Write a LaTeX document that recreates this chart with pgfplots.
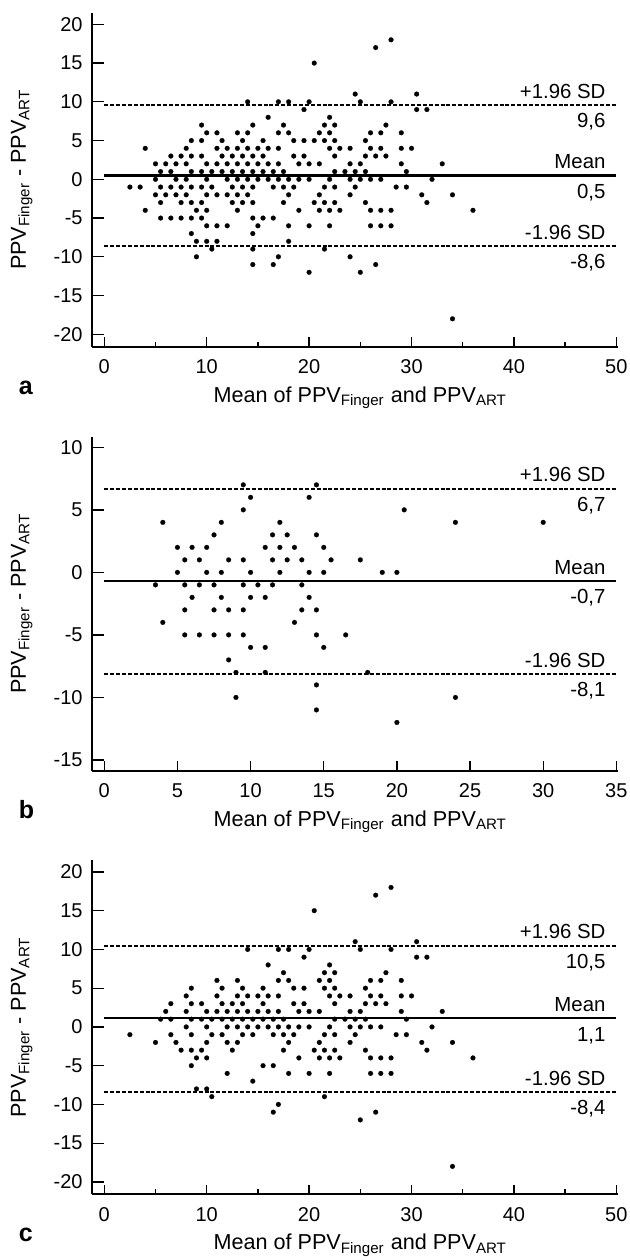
\documentclass[border=0pt]{standalone}
\usepackage{fontspec}
\setmainfont{Liberation Sans}
\usepackage{pgfplots}
\usepackage{pgfplotstable}
\pgfplotsset{compat=1.18}

% Bland-Altman scatter: mean of the two methods (x) vs difference (y)
\pgfplotstableread{
x y
2.5 -1
3.5 -1
4 4
4 -4
5 2
5 0
5 -2
5.5 1
5.5 -1
5.5 -3
5.5 -5
6 2
6 -2
6.5 3
6.5 1
6.5 -1
6.5 -5
7 2
7 0
7 -2
7.5 3
7.5 -1
7.5 -3
7.5 -5
8 4
8 2
8 0
8 -2
8.5 5
8.5 3
8.5 1
8.5 -1
8.5 -3
8.5 -5
8.5 -7
9 -4
9 -8
9 -10
9.5 7
9.5 5
9.5 3
9.5 1
9.5 -1
9.5 -3
9.5 -5
10 6
10 2
10 0
10 -2
10 -4
10 -6
10 -8
10.5 1
10.5 -1
10.5 -9
11 6
11 4
11 2
11 -2
11 -6
11 -8
11.5 5
11.5 3
11.5 1
12 4
12 2
12 0
12 -2
12 -6
12.5 3
12.5 1
12.5 -1
12.5 -3
13 6
13 4
13 2
13 0
13 -2
13 -4
13.5 5
13.5 3
13.5 1
13.5 -1
13.5 -3
14 10
14 6
14 4
14 2
14 0
14 -2
14.5 7
14.5 3
14.5 1
14.5 -1
14.5 -3
14.5 -5
14.5 -7
14.5 -9
14.5 -11
15 4
15 2
15 0
15 -6
15.5 5
15.5 3
15.5 1
15.5 -5
16 8
16 4
16 2
16 0
16.5 1
16.5 -1
16.5 -5
16.5 -11
17 10
17 6
17 4
17 2
17 0
17 -10
17.5 7
17.5 1
17.5 -1
17.5 -3
18 10
18 6
18 0
18 -2
18 -6
18 -8
18.5 5
18.5 3
18.5 -1
19 2
19 0
19 -4
19.5 9
19.5 5
19.5 3
20 10
20 2
20 0
20 -6
20 -12
20.5 15
20.5 5
20.5 -3
21 6
21 2
21 -2
21 -4
21.5 7
21.5 5
21.5 -1
21.5 -3
21.5 -9
22 8
22 6
22 4
22 0
22 -4
22 -6
22.5 7
22.5 5
22.5 3
22.5 1
22.5 -1
22.5 -3
23 4
23 -4
23.5 1
24 4
24 2
24 0
24 -2
24 -10
24.5 11
24.5 1
24.5 -1
25 10
25 2
25 0
25 -12
25.5 5
25.5 3
25.5 1
25.5 -3
26 6
26 4
26 0
26 -4
26 -6
26.5 17
26.5 3
26.5 -11
27 6
27 4
27 0
27 -4
27 -6
27.5 7
27.5 3
28 18
28 10
28 -4
28 -6
28.5 -1
29 6
29 4
29 2
29.5 1
29.5 -1
30 4
30.5 11
30.5 9
31 -2
31.5 9
31.5 -3
32 0
33 2
34 -2
34 -18
36 -4
}\dataA

\pgfplotstableread{
x y
3.5 -1
4 4
4 -4
5 2
5 0
5.5 1
5.5 -1
5.5 -3
5.5 -5
6 2
6 -2
6.5 1
6.5 -1
6.5 -5
7 2
7 0
7.5 3
7.5 -1
7.5 -3
7.5 -5
8 4
8 0
8 -2
8.5 1
8.5 -3
8.5 -5
8.5 -7
9 -8
9 -10
9.5 7
9.5 5
9.5 1
9.5 -1
9.5 -3
9.5 -5
10 6
10 0
10 -2
10 -6
10.5 -1
11 2
11 -2
11 -6
11 -8
11.5 3
11.5 1
11.5 -1
12 4
12 2
12 0
12.5 3
12.5 1
13 2
13 -4
13.5 1
13.5 -1
13.5 -3
14 6
14 0
14 -2
14.5 7
14.5 3
14.5 -3
14.5 -5
14.5 -9
14.5 -11
15 2
15 0
15 -6
15.5 1
16.5 -5
17.5 1
18 -8
19 0
20 0
20 -12
20.5 5
24 4
24 -10
30 4
}\dataB

\pgfplotstableread{
x y
2.5 -1
5 -2
5.5 1
6 2
6.5 3
6.5 1
6.5 -1
7 -2
7.5 -3
8 4
8 2
8 0
8.5 5
8.5 3
8.5 1
8.5 -1
8.5 -3
8.5 -5
9 -4
9 -8
9.5 3
9.5 1
9.5 -3
10 2
10 0
10 -2
10 -4
10 -8
10.5 1
10.5 -1
10.5 -9
11 6
11 4
11 2
11.5 5
11.5 3
11.5 1
11.5 -1
12 2
12 0
12 -2
12 -6
12.5 3
12.5 1
12.5 -3
13 6
13 4
13 2
13 0
13 -2
13.5 5
13.5 3
13.5 1
13.5 -1
14 10
14 4
14 2
14 0
14.5 1
14.5 -1
14.5 -7
15 4
15 2
15 0
15.5 5
15.5 3
15.5 1
15.5 -5
16 8
16 4
16 2
16 0
16.5 1
16.5 -1
16.5 -5
16.5 -11
17 10
17 6
17 4
17 2
17 0
17 -10
17.5 7
17.5 1
17.5 -1
17.5 -3
18 10
18 6
18 0
18 -2
18 -6
18.5 5
18.5 3
18.5 -1
19 2
19 0
19 -4
19.5 9
19.5 5
19.5 3
20 10
20 2
20 0
20 -6
20.5 15
20.5 -3
21 6
21 2
21 -2
21 -4
21.5 7
21.5 5
21.5 -1
21.5 -3
21.5 -9
22 8
22 6
22 4
22 0
22 -4
22 -6
22.5 7
22.5 5
22.5 3
22.5 1
22.5 -1
22.5 -3
23 4
23 -4
23.5 1
24 4
24 2
24 0
24 -2
24.5 11
24.5 1
24.5 -1
25 10
25 2
25 0
25 -12
25.5 5
25.5 3
25.5 1
25.5 -3
26 6
26 4
26 0
26 -4
26 -6
26.5 17
26.5 3
26.5 -11
27 6
27 4
27 0
27 -4
27 -6
27.5 7
27.5 3
28 18
28 10
28 -4
28 -6
28.5 -1
29 6
29 4
29 2
29.5 1
29.5 -1
30 4
30.5 11
30.5 9
31 -2
31.5 9
31.5 -3
32 0
33 2
34 -2
34 -18
36 -4
}\dataC

\newcommand{\ticksize}{\fontsize{10}{12}\selectfont}
\newcommand{\annsize}{\fontsize{10.2}{12}\selectfont}
\newcommand{\labsize}{\fontsize{10.8}{13}\selectfont}
\newcommand{\ylab}{PPV\textsubscript{Finger} - PPV\textsubscript{ART}}
\newcommand{\xlab}{Mean of PPV\textsubscript{Finger} and PPV\textsubscript{ART}}

\pgfplotsset{
  ba/.style={
    anchor=south west, scale only axis, width=263.2pt, height=167pt,
    axis lines*=left, tick align=inside,
    axis line style={black, line width=0.9pt},
    tick style={black, line width=0.65pt},
    xtick style={/pgfplots/major tick length=4.65pt, /pgfplots/minor tick length=2.5pt},
    ytick style={/pgfplots/major tick length=6.15pt},
    xticklabel style={anchor=base, yshift=-13.4pt, font=\ticksize},
    yticklabel style={anchor=east, inner sep=0pt, xshift=-4.5pt, font=\ticksize},
  },
  dots/.style={only marks, mark=*, mark size=1.2pt, mark options={black, line width=0.1pt}},
  meanline/.style={black, line width=1.1pt, no marks},
  sdline/.style={black, line width=1pt, dash pattern=on 2pt off 0.95pt, no marks},
}

\begin{document}
\begin{tikzpicture}
\path[use as bounding box] (0pt,0pt) rectangle (315pt,630pt);

% ---- panel a ----
\begin{axis}[ba, at={(46pt,456.65pt)},
  xmin=-1.2, xmax=50.2, ymin=-21.6, ymax=21.5,
  xtick={0,10,20,30,40,50}, xticklabels={0,10,20,30,40,50},
  minor xtick={5,15,25,35,45},
  ytick={-20,-15,-10,-5,0,5,10,15,20},
  yticklabels={-20,-15,-10,-5,0,5,10,15,20}]
\addplot[dots] table[x=x,y=y] {\dataA};
\addplot[sdline] coordinates {(0,9.6) (50,9.6)};
\addplot[meanline] coordinates {(0,0.5) (50,0.5)};
\addplot[sdline] coordinates {(0,-8.6) (50,-8.6)};
\node[anchor=base east, font=\annsize, xshift=-1.9pt, yshift=3.3pt] at (axis cs:50,9.6) {+1.96 SD};
\node[anchor=base east, font=\annsize, xshift=-1.9pt, yshift=-11.4pt] at (axis cs:50,9.6) {9,6};
\node[anchor=base east, font=\annsize, xshift=-1.9pt, yshift=3.5pt] at (axis cs:50,0.5) {Mean};
\node[anchor=base east, font=\annsize, xshift=-1.9pt, yshift=-11.4pt] at (axis cs:50,0.5) {0,5};
\node[anchor=base east, font=\annsize, xshift=-1.9pt, yshift=3.3pt] at (axis cs:50,-8.6) {-1.96 SD};
\node[anchor=base east, font=\annsize, xshift=-1.9pt, yshift=-11.4pt] at (axis cs:50,-8.6) {-8,6};
\end{axis}

% ---- panel b ----
\begin{axis}[ba, at={(46pt,244.65pt)},
  xmin=-0.84, xmax=35.14, ymin=-15.86, ymax=10.85,
  xtick={0,5,10,15,20,25,30,35}, xticklabels={0,5,10,15,20,25,30,35},
  ytick={-15,-10,-5,0,5,10},
  yticklabels={-15,-10,-5,0,5,10}]
\addplot[dots] table[x=x,y=y] {\dataB};
\addplot[sdline] coordinates {(0,6.7) (35,6.7)};
\addplot[meanline] coordinates {(0,-0.7) (35,-0.7)};
\addplot[sdline] coordinates {(0,-8.1) (35,-8.1)};
\node[anchor=base east, font=\annsize, xshift=-1.9pt, yshift=3.3pt] at (axis cs:35,6.7) {+1.96 SD};
\node[anchor=base east, font=\annsize, xshift=-1.9pt, yshift=-11.4pt] at (axis cs:35,6.7) {6,7};
\node[anchor=base east, font=\annsize, xshift=-1.9pt, yshift=3.5pt] at (axis cs:35,-0.7) {Mean};
\node[anchor=base east, font=\annsize, xshift=-1.9pt, yshift=-11.4pt] at (axis cs:35,-0.7) {-0,7};
\node[anchor=base east, font=\annsize, xshift=-1.9pt, yshift=3.3pt] at (axis cs:35,-8.1) {-1.96 SD};
\node[anchor=base east, font=\annsize, xshift=-1.9pt, yshift=-11.4pt] at (axis cs:35,-8.1) {-8,1};
\end{axis}

% ---- panel c ----
\begin{axis}[ba, at={(46pt,32.85pt)},
  xmin=-1.2, xmax=50.2, ymin=-21.6, ymax=21.5,
  xtick={0,10,20,30,40,50}, xticklabels={0,10,20,30,40,50},
  minor xtick={5,15,25,35,45},
  ytick={-20,-15,-10,-5,0,5,10,15,20},
  yticklabels={-20,-15,-10,-5,0,5,10,15,20}]
\addplot[dots] table[x=x,y=y] {\dataC};
\addplot[sdline] coordinates {(0,10.5) (50,10.5)};
\addplot[meanline] coordinates {(0,1.1) (50,1.1)};
\addplot[sdline] coordinates {(0,-8.4) (50,-8.4)};
\node[anchor=base east, font=\annsize, xshift=-1.9pt, yshift=3.3pt] at (axis cs:50,10.5) {+1.96 SD};
\node[anchor=base east, font=\annsize, xshift=-1.9pt, yshift=-11.4pt] at (axis cs:50,10.5) {10,5};
\node[anchor=base east, font=\annsize, xshift=-1.9pt, yshift=3.5pt] at (axis cs:50,1.1) {Mean};
\node[anchor=base east, font=\annsize, xshift=-1.9pt, yshift=-11.4pt] at (axis cs:50,1.1) {1,1};
\node[anchor=base east, font=\annsize, xshift=-1.9pt, yshift=3.3pt] at (axis cs:50,-8.4) {-1.96 SD};
\node[anchor=base east, font=\annsize, xshift=-1.9pt, yshift=-11.4pt] at (axis cs:50,-8.4) {-8,4};
\end{axis}

% axis titles and panel letters
\foreach \b/\l in {456.65/a, 244.65/b, 32.85/c} {
  \node[rotate=90, anchor=base, font=\labsize] at (13pt,\b pt+83.5pt) {\ylab};
  \node[anchor=base, font=\labsize] at (180.15pt,\b pt-27.8pt) {\xlab};
  \node[anchor=base west, font=\bfseries\fontsize{12.5}{14}\selectfont] at (5.85pt,\b pt-23.8pt) {\l};
}
\end{tikzpicture}
\end{document}
